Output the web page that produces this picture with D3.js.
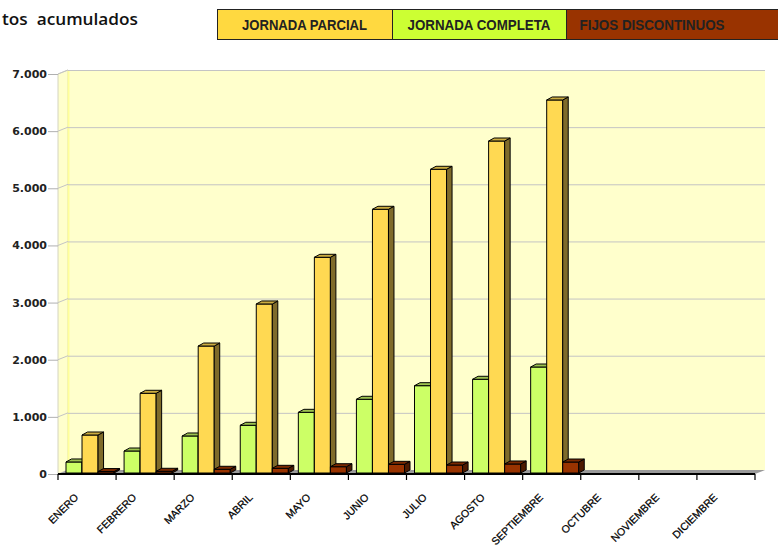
<!DOCTYPE html>
<html>
<head>
<meta charset="utf-8">
<script src="https://cdn.jsdelivr.net/npm/d3@7"></script>
<style>
  body { margin: 0; background: #fff; }
  svg { display: block; }
</style>
</head>
<body>
<div id="chart"></div>
<script>
// data
const meses = ['ENERO', 'FEBRERO', 'MARZO', 'ABRIL', 'MAYO', 'JUNIO', 'JULIO',
  'AGOSTO', 'SEPTIEMBRE', 'OCTUBRE', 'NOVIEMBRE', 'DICIEMBRE'];
const completa = [193, 385, 648, 835, 1062, 1290, 1528, 1640, 1855, null, null, null];
const parcial = [665, 1395, 2222, 2958, 3775, 4615, 5315, 5810, 6528, null, null, null];
const fijos = [25, 30, 65, 82, 110, 152, 140, 158, 192, null, null, null];
const yTicks = [0, 1000, 2000, 3000, 4000, 5000, 6000, 7000];

const series = [
  { name: 'JORNADA COMPLETA', values: completa, front: '#CCFF66', top: '#9CC24F', side: '#6E8A33' },
  { name: 'JORNADA PARCIAL', values: parcial, front: '#FFD952', top: '#CCAD40', side: '#7F6B2A' },
  { name: 'FIJOS DISCONTINUOS', values: fijos, front: '#993300', top: '#7A2900', side: '#4D1A00' }
];
const legend = [
  { name: 'JORNADA PARCIAL', fill: '#FFD940', w: 125 },
  { name: 'JORNADA COMPLETA', fill: '#CCFF33', w: 143 },
  { name: 'FIJOS DISCONTINUOS', fill: '#993300', w: 145 }
];

const W = 778, H = 547;
const svg = d3.select('#chart').append('svg').attr('width', W).attr('height', H);

// front plane + depth of the 3d box
const x0 = 58, x1 = 755;
const depthX = 10, depthY = -4;
const y = d3.scaleLinear().domain([0, 7000]).range([474, 74]);
const x = d3.scaleBand().domain(meses).range([x0, x1]);

// back wall
svg.append('rect')
  .attr('x', x0 + depthX).attr('y', y(7000) + depthY)
  .attr('width', x1 - x0).attr('height', y(0) - y(7000))
  .attr('fill', '#FFFFCC');

// left wall
svg.append('polygon')
  .attr('points', [[x0, y(7000)], [x0 + depthX, y(7000) + depthY], [x0 + depthX, y(0) + depthY], [x0, y(0)]].join(' '))
  .attr('fill', '#FFFFCC').attr('stroke', '#d4d4c0').attr('stroke-width', 1);
svg.append('line')
  .attr('x1', x0 + depthX + 0.5).attr('x2', x0 + depthX + 0.5)
  .attr('y1', y(7000) + depthY).attr('y2', y(0) + depthY)
  .attr('stroke', '#FFFF99').attr('stroke-width', 2);

// gridlines
const grid = svg.append('g');
yTicks.filter(d => d > 0).forEach(d => {
  grid.append('line')
    .attr('x1', x0 + depthX).attr('x2', x1 + depthX)
    .attr('y1', y(d) + depthY + 0.5).attr('y2', y(d) + depthY + 0.5)
    .attr('stroke', '#c4c4c4').attr('stroke-width', 1);
  grid.append('line')
    .attr('x1', x0).attr('x2', x0 + depthX)
    .attr('y1', y(d)).attr('y2', y(d) + depthY)
    .attr('stroke', '#c4c4c4').attr('stroke-width', 1);
});

// floor
svg.append('polygon')
  .attr('points', [[x0, y(0)], [x1, y(0)], [x1 + depthX, y(0) + depthY], [x0 + depthX, y(0) + depthY]].join(' '))
  .attr('fill', '#9a9a9a');

// y axis labels and ticks
const yAx = svg.append('g');
yTicks.forEach(d => {
  yAx.append('line')
    .attr('x1', 48).attr('x2', x0).attr('y1', y(d) + 0.5).attr('y2', y(d) + 0.5)
    .attr('stroke', '#b0b0b0');
  yAx.append('text')
    .attr('x', 47).attr('y', y(d) + 4)
    .attr('text-anchor', 'end')
    .attr('font-family', 'DejaVu Sans').attr('font-size', 11).attr('font-weight', 'bold')
    .attr('fill', '#222')
    .text(d3.format(',')(d).replace(/,/g, '.'));
});

// 3d bars
const barW = x.bandwidth() * 0.276;
const bdx = 5.5, bdy = -3;
const base = y(0) - 1;
const bars = svg.append('g').attr('stroke', '#000').attr('stroke-width', 1).attr('stroke-linejoin', 'round');
meses.forEach((m, i) => {
  series.forEach((s, k) => {
    const v = s.values[i];
    if (v == null) return;
    const bx = x(m) + 8 + k * barW;
    const top = base - (y(0) - y(v));
    bars.append('rect')
      .attr('x', bx).attr('y', top).attr('width', barW).attr('height', base - top)
      .attr('fill', s.front);
    bars.append('polygon')
      .attr('points', [[bx + barW, top], [bx + barW + bdx, top + bdy], [bx + barW + bdx, base + bdy], [bx + barW, base]].join(' '))
      .attr('fill', s.side);
    bars.append('polygon')
      .attr('points', [[bx, top], [bx + bdx, top + bdy], [bx + barW + bdx, top + bdy], [bx + barW, top]].join(' '))
      .attr('fill', s.top);
  });
});

// x axis
svg.append('line')
  .attr('x1', x0).attr('x2', x1).attr('y1', y(0)).attr('y2', y(0))
  .attr('stroke', '#000').attr('stroke-width', 2);
const edges = meses.map(m => x(m)).concat([x1]);
edges.forEach(e => {
  svg.append('line')
    .attr('x1', e).attr('x2', e).attr('y1', y(0)).attr('y2', y(0) + 6)
    .attr('stroke', '#000').attr('stroke-width', 1.2);
});
meses.forEach(m => {
  const cx = x(m) + x.bandwidth() / 2 - 8;
  svg.append('text')
    .attr('transform', `translate(${cx},498) rotate(-45)`)
    .attr('text-anchor', 'end')
    .attr('font-family', 'Liberation Sans, Arial, sans-serif').attr('font-size', 10.5)
    .attr('fill', '#000').attr('stroke', '#000').attr('stroke-width', 0.25)
    .text(m);
});

// title fragment
svg.append('text')
  .attr('x', 2).attr('y', 25)
  .attr('font-family', 'Open Sans, sans-serif').attr('font-size', 17).attr('font-weight', 600)
  .attr('textLength', 136).attr('lengthAdjust', 'spacingAndGlyphs')
  .attr('xml:space', 'preserve')
  .attr('fill', '#111')
  .text('tos  acumulados');

// legend
const lg = svg.append('g');
const cellX = [217, 392, 566];
const cellR = [392, 566, 782];
legend.forEach((l, i) => {
  lg.append('rect')
    .attr('x', cellX[i] + 0.5).attr('y', 9.5)
    .attr('width', cellR[i] - cellX[i]).attr('height', 30)
    .attr('fill', l.fill).attr('stroke', '#222').attr('stroke-width', 1);
  const cx = i < 2 ? (cellX[i] + cellR[i]) / 2 : 652;
  lg.append('text')
    .attr('x', cx).attr('y', 30)
    .attr('text-anchor', 'middle')
    .attr('font-family', 'Liberation Sans, Arial, sans-serif').attr('font-weight', 'bold')
    .attr('font-size', 15)
    .attr('textLength', l.w).attr('lengthAdjust', 'spacingAndGlyphs')
    .attr('fill', '#222')
    .text(l.name);
});
</script>
</body>
</html>
